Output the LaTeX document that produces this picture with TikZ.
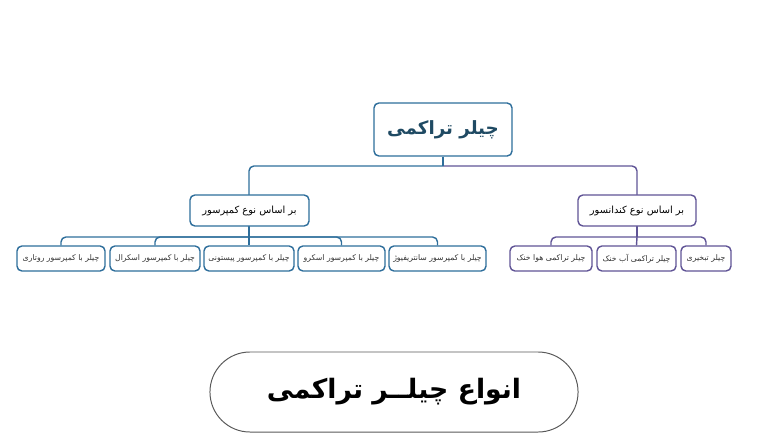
\documentclass[tikz,border=0pt]{standalone}
\usepackage{fontspec}
\newfontfamily\farsi[Script=Arabic]{DejaVu Sans}
\TeXXeTstate=1
\definecolor{treeblue}{HTML}{2E6E9B}
\definecolor{treepurple}{HTML}{605496}
\definecolor{roottext}{HTML}{1F4A63}
\newcommand{\fa}[1]{{\farsi\beginR #1\endR}}
\begin{document}
\begin{tikzpicture}[x=0.025cm,y=-0.025cm,
    box/.style={draw,fill=white,line width=1pt,rounded corners=3.5pt,inner sep=0pt,align=center},
    leafbox/.style={box,minimum height=0.625cm,text=black!80,font=\fontsize{5.5}{6}\selectfont},
    midbox/.style={box,minimum width=2.975cm,minimum height=0.775cm,text=black,font=\fontsize{7}{8}\selectfont},
    bline/.style={treeblue,line width=1pt,rounded corners=3.5pt},
    pline/.style={treepurple,line width=1pt,rounded corners=3.5pt}]
    \useasboundingbox (0,0) rectangle (780,439);

    \coordinate (tbus) at (443,166);
    \coordinate (lbus) at (249,237);
    \coordinate (rbus) at (637,237);

    \draw[bline] (tbus) -| (249,195);
    \draw[pline] (tbus) -| (637,195);
    \draw[bline] (249,226) -- (lbus);
    \draw[pline] (637,226) -- (rbus);

    \node[box,draw=treeblue,text=roottext,minimum width=3.45cm,minimum height=1.325cm,font=\fontsize{13}{15}\bfseries] (root) at (443,129.5) {\fa{چیلر تراکمی}};
    \draw[bline] (root.south) -- (tbus);

    \node[midbox,draw=treeblue] (lmid) at (249.5,210.5) {\fa{بر اساس نوع کمپرسور}};
    \node[midbox,draw=treepurple,minimum width=2.95cm] (rmid) at (637,210.5) {\fa{بر اساس نوع کندانسور}};

    \node[leafbox,draw=treeblue,minimum width=2.2cm] (comp1) at (61,258.5) {\fa{چیلر با کمپرسور روتاری}};
    \node[leafbox,draw=treeblue,minimum width=2.25cm] (comp2) at (155,258.5) {\fa{چیلر با کمپرسور اسکرال}};
    \node[leafbox,draw=treeblue,minimum width=2.25cm] (comp3) at (249,258.5) {\fa{چیلر با کمپرسور پیستونی}};
    \node[leafbox,draw=treeblue,minimum width=2.175cm] (comp4) at (341.5,258.5) {\fa{چیلر با کمپرسور اسکرو}};
    \node[leafbox,draw=treeblue,minimum width=2.425cm] (comp5) at (437.5,258.5) {\fa{چیلر با کمپرسور سانتریفیوژ}};

    \node[leafbox,draw=treepurple,minimum width=2.05cm] (cond1) at (551,258.5) {\fa{چیلر تراکمی هوا خنک}};
    \node[leafbox,draw=treepurple,minimum width=1.975cm] (cond2) at (636.5,258.5) {\fa{چیلر تراکمی آب خنک}};
    \node[leafbox,draw=treepurple,minimum width=1.25cm] (cond3) at (706,258.5) {\fa{چیلر تبخیری}};

    \draw[bline] (lbus) -| (comp1.north);
    \draw[bline] (lbus) -| (comp2.north);
    \draw[bline] (lbus) -- (comp3.north);
    \draw[bline] (lbus) -| (comp4.north);
    \draw[bline] (lbus) -| (comp5.north);
    \draw[pline] (rbus) -| (cond1.north);
    \draw[pline] (rbus) -- (cond2.north);
    \draw[pline] (rbus) -| (cond3.north);

    \node[draw=black!65,line width=0.7pt,rounded corners=1cm,minimum width=9.2cm,minimum height=2cm,font=\fontsize{19}{22}\bfseries] (title) at (394,392) {\fa{انواع چیلــر تراکمی}};

\end{tikzpicture}
\end{document}
